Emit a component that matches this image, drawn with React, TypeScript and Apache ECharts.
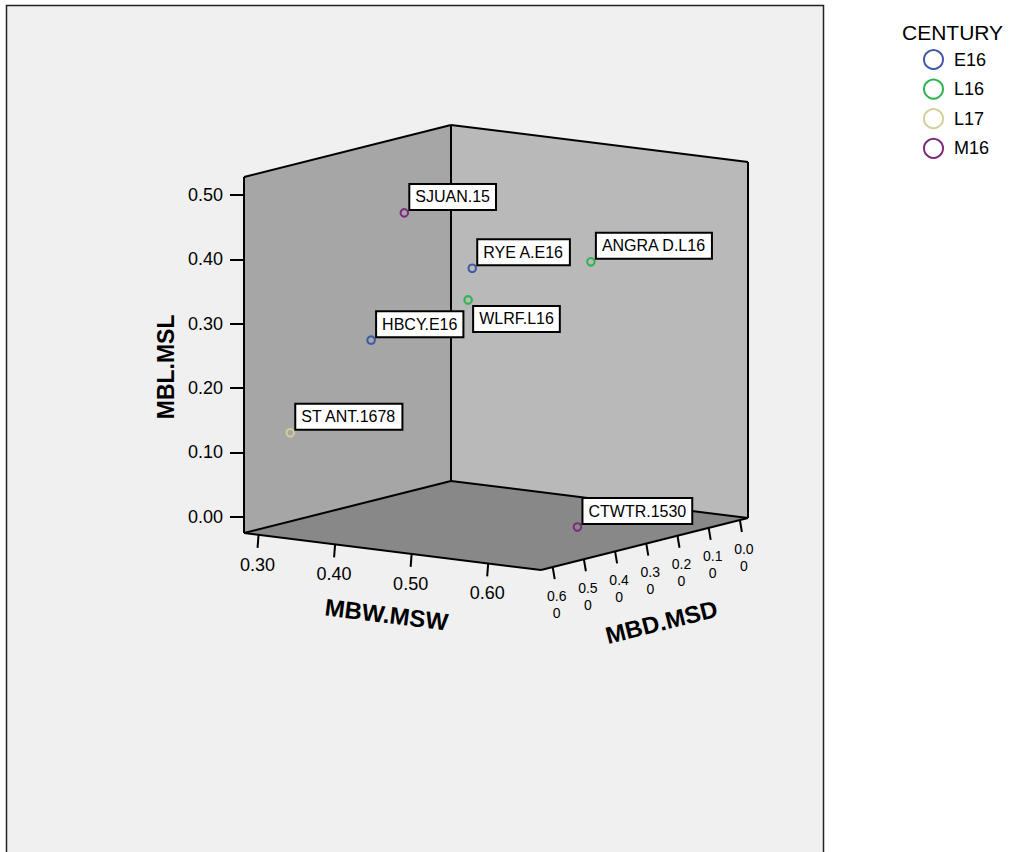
import React, { useEffect, useRef } from "react";
import * as echarts from "echarts";

// ---- data ----
const pointNames = ["SJUAN.15", "RYE A.E16", "ANGRA D.L16", "WLRF.L16", "HBCY.E16", "ST ANT.1678", "CTWTR.1530"];
const pointCentury = ["M16", "E16", "L16", "L16", "E16", "L17", "M16"];
const mbwMsw = [0.414, 0.462, 0.617, 0.477, 0.391, 0.318, 0.608];
const mblMsl = [0.469, 0.378, 0.411, 0.337, 0.274, 0.129, 0.0];
const mbdMsd = [0.45, 0.35, 0.35, 0.4, 0.5, 0.58, 0.371];
const labelBelow = [false, false, false, true, false, false, false];

const centuries = ["E16", "L16", "L17", "M16"];
const centuryColors = ["#3f58a8", "#2db34c", "#d4cf9a", "#7b2b7c"];

const xTicks = [0.3, 0.4, 0.5, 0.6];
const yTicks = [0, 0.1, 0.2, 0.3, 0.4, 0.5];
const zTicks = [0.6, 0.5, 0.4, 0.3, 0.2, 0.1, 0.0];

const X_RANGE = [0.281, 0.669];
const Y_RANGE = [-0.0253, 0.528];
const Z_RANGE = [-0.026, 0.6375];

// projection layout (oblique view)
const DEPTH = [207, -52]; // screen offset for full z range
const X_SLOPE = 37; // vertical drop across full x range

const FONT = '"Liberation Sans", Arial, sans-serif';

function makeProj(api: any) {
  return (x: number, y: number, z: number) => {
    const p = api.coord([x, y]);
    const fz = (Z_RANGE[1] - z) / (Z_RANGE[1] - Z_RANGE[0]);
    const fx = (x - X_RANGE[0]) / (X_RANGE[1] - X_RANGE[0]);
    return [p[0] + fz * DEPTH[0], p[1] + fx * X_SLOPE + fz * DEPTH[1]];
  };
}

function renderBox(params: any, api: any) {
  const P = makeProj(api);
  const [xa, xb] = X_RANGE;
  const [ya, yb] = Y_RANGE;
  const [za, zb] = Z_RANGE;
  const L = P(xa, ya, zb), F = P(xb, ya, zb), R = P(xb, ya, za), B = P(xa, ya, za);
  const Lt = P(xa, yb, zb), Rt = P(xb, yb, za), Bt = P(xa, yb, za);
  const edge = (a: number[], b: number[]) => ({
    type: "line",
    shape: { x1: a[0], y1: a[1], x2: b[0], y2: b[1] },
    style: { stroke: "#000", lineWidth: 2 },
  });
  const children: any[] = [
    { type: "polygon", shape: { points: [L, B, Bt, Lt] }, style: { fill: "#a6a6a6" } },
    { type: "polygon", shape: { points: [B, R, Rt, Bt] }, style: { fill: "#b9b9b9" } },
    { type: "polygon", shape: { points: [L, B, R, F] }, style: { fill: "#888888" } },
    edge(L, Lt), edge(Lt, Bt), edge(Bt, B), edge(Bt, Rt), edge(Rt, R),
    edge(L, B), edge(B, R), edge(L, F), edge(F, R),
  ];
  xTicks.forEach((v) => {
    const s = P(v, ya, zb);
    children.push({
      type: "line",
      shape: { x1: s[0], y1: s[1], x2: s[0] - 1, y2: s[1] + 13 },
      style: { stroke: "#000", lineWidth: 2 },
    });
    children.push({
      type: "text",
      x: s[0] - 1,
      y: s[1] + 30,
      style: { text: v.toFixed(2), font: `18px ${FONT}`, fill: "#000", align: "center", verticalAlign: "middle" },
    });
  });
  zTicks.forEach((v) => {
    const s = P(xb, ya, v);
    const t = v.toFixed(2);
    children.push({
      type: "line",
      shape: { x1: s[0], y1: s[1], x2: s[0] + 2, y2: s[1] + 12 },
      style: { stroke: "#000", lineWidth: 2 },
    });
    children.push({
      type: "text",
      x: s[0] + 4,
      y: s[1] + 37,
      style: {
        text: t.slice(0, 3) + "\n" + t.slice(3),
        font: `14px ${FONT}`,
        lineHeight: 17,
        fill: "#000",
        align: "center",
        verticalAlign: "middle",
      },
    });
  });
  // axis names
  const midX = [(L[0] + F[0]) / 2, (L[1] + F[1]) / 2];
  const midZ = [(F[0] + R[0]) / 2, (F[1] + R[1]) / 2];
  const midY = P(xa, (yTicks[0] + yTicks[yTicks.length - 1]) / 2, zb);
  children.push({
    type: "text",
    x: midX[0] - 6,
    y: midX[1] + 63,
    rotation: -Math.atan2(F[1] - L[1], F[0] - L[0]),
    style: { text: "MBW.MSW", font: `bold 24px ${FONT}`, fill: "#000", align: "center", verticalAlign: "middle" },
  });
  children.push({
    type: "text",
    x: midZ[0] + 17,
    y: midZ[1] + 78,
    rotation: -Math.atan2(R[1] - F[1], R[0] - F[0]),
    style: { text: "MBD.MSD", font: `bold 24px ${FONT}`, fill: "#000", align: "center", verticalAlign: "middle" },
  });
  children.push({
    type: "text",
    x: midY[0] - 78,
    y: midY[1] + 11,
    rotation: Math.PI / 2,
    style: { text: "MBL.MSL", font: `bold 23px ${FONT}`, fill: "#000", align: "center", verticalAlign: "middle" },
  });
  return { type: "group", children };
}

function renderPoint(params: any, api: any) {
  const P = makeProj(api);
  const idx = api.value(3);
  const p = P(api.value(0), api.value(1), api.value(2));
  const color = api.visual("color");
  const below = labelBelow[idx];
  return {
    type: "group",
    children: [
      {
        type: "circle",
        shape: { cx: p[0], cy: p[1], r: 3.8 },
        style: { fill: "none", stroke: color, lineWidth: 2 },
      },
      {
        type: "text",
        x: p[0] + 6,
        y: below ? p[1] + 7 : p[1] - 4,
        style: {
          text: pointNames[idx],
          font: `16px ${FONT}`,
          lineHeight: 16,
          fill: "#000",
          align: "left",
          verticalAlign: below ? "top" : "bottom",
          backgroundColor: "#fff",
          borderColor: "#000",
          borderWidth: 2,
          padding: [4, 5, 4, 5],
        },
      },
    ],
  };
}

export default function App() {
  const ref = useRef<HTMLDivElement>(null);
  useEffect(() => {
    if (!ref.current) return;
    const chart = echarts.init(ref.current, null, { renderer: "svg" });
    const pointSeries = centuries.map((c, ci) => ({
      type: "custom",
      name: c,
      coordinateSystem: "cartesian2d",
      z: 4,
      silent: true,
      itemStyle: { color: centuryColors[ci] },
      renderItem: renderPoint,
      data: pointNames
        .map((_, i) => i)
        .filter((i) => pointCentury[i] === c)
        .map((i) => [mbwMsw[i], mblMsl[i], mbdMsd[i], i]),
    }));
    chart.setOption({
      animation: false,
      backgroundColor: "#fff",
      textStyle: { fontFamily: FONT },
      grid: { left: 244, top: 177, width: 297, height: 356, containLabel: false },
      xAxis: { type: "value", min: X_RANGE[0], max: X_RANGE[1], show: false },
      yAxis: {
        type: "value",
        min: Y_RANGE[0],
        max: Y_RANGE[1],
        z: 5,
        axisLine: { show: false },
        splitLine: { show: false },
        axisTick: { show: true, customValues: yTicks, length: 14, lineStyle: { color: "#000", width: 2 } },
        axisLabel: {
          customValues: yTicks,
          formatter: (v: number) => v.toFixed(2),
          fontSize: 18,
          color: "#000",
          margin: 21,
          fontFamily: FONT,
        },
      },
      legend: {
        orient: "vertical",
        left: 918,
        top: 44,
        padding: 5,
        itemWidth: 19,
        itemHeight: 19,
        itemGap: 8.6,
        icon: "circle",
        selectedMode: false,
        textStyle: { fontSize: 18, color: "#000", fontFamily: FONT, padding: [0, 0, 0, 6] },
        data: centuries.map((c, i) => ({
          name: c,
          itemStyle: { color: "rgba(0,0,0,0)", borderColor: centuryColors[i], borderWidth: 2 },
        })),
      },
      graphic: [
        {
          type: "rect",
          z: -10,
          shape: { x: 6.5, y: 5.5, width: 817, height: 900 },
          style: { fill: "#f0f0f0", stroke: "#222", lineWidth: 1.5 },
        },
        {
          type: "text",
          left: 902,
          top: 22,
          style: { text: "CENTURY", font: `21px ${FONT}`, fill: "#000" },
        },
      ],
      series: [
        {
          type: "custom",
          name: "box",
          coordinateSystem: "cartesian2d",
          z: 1,
          silent: true,
          renderItem: renderBox,
          data: [[X_RANGE[0], Y_RANGE[0]]],
        },
        ...pointSeries,
      ],
    });
    return () => chart.dispose();
  }, []);
  return <div ref={ref} style={{ position: "fixed", left: 0, top: 0, width: 1021, height: 852 }} />;
}
